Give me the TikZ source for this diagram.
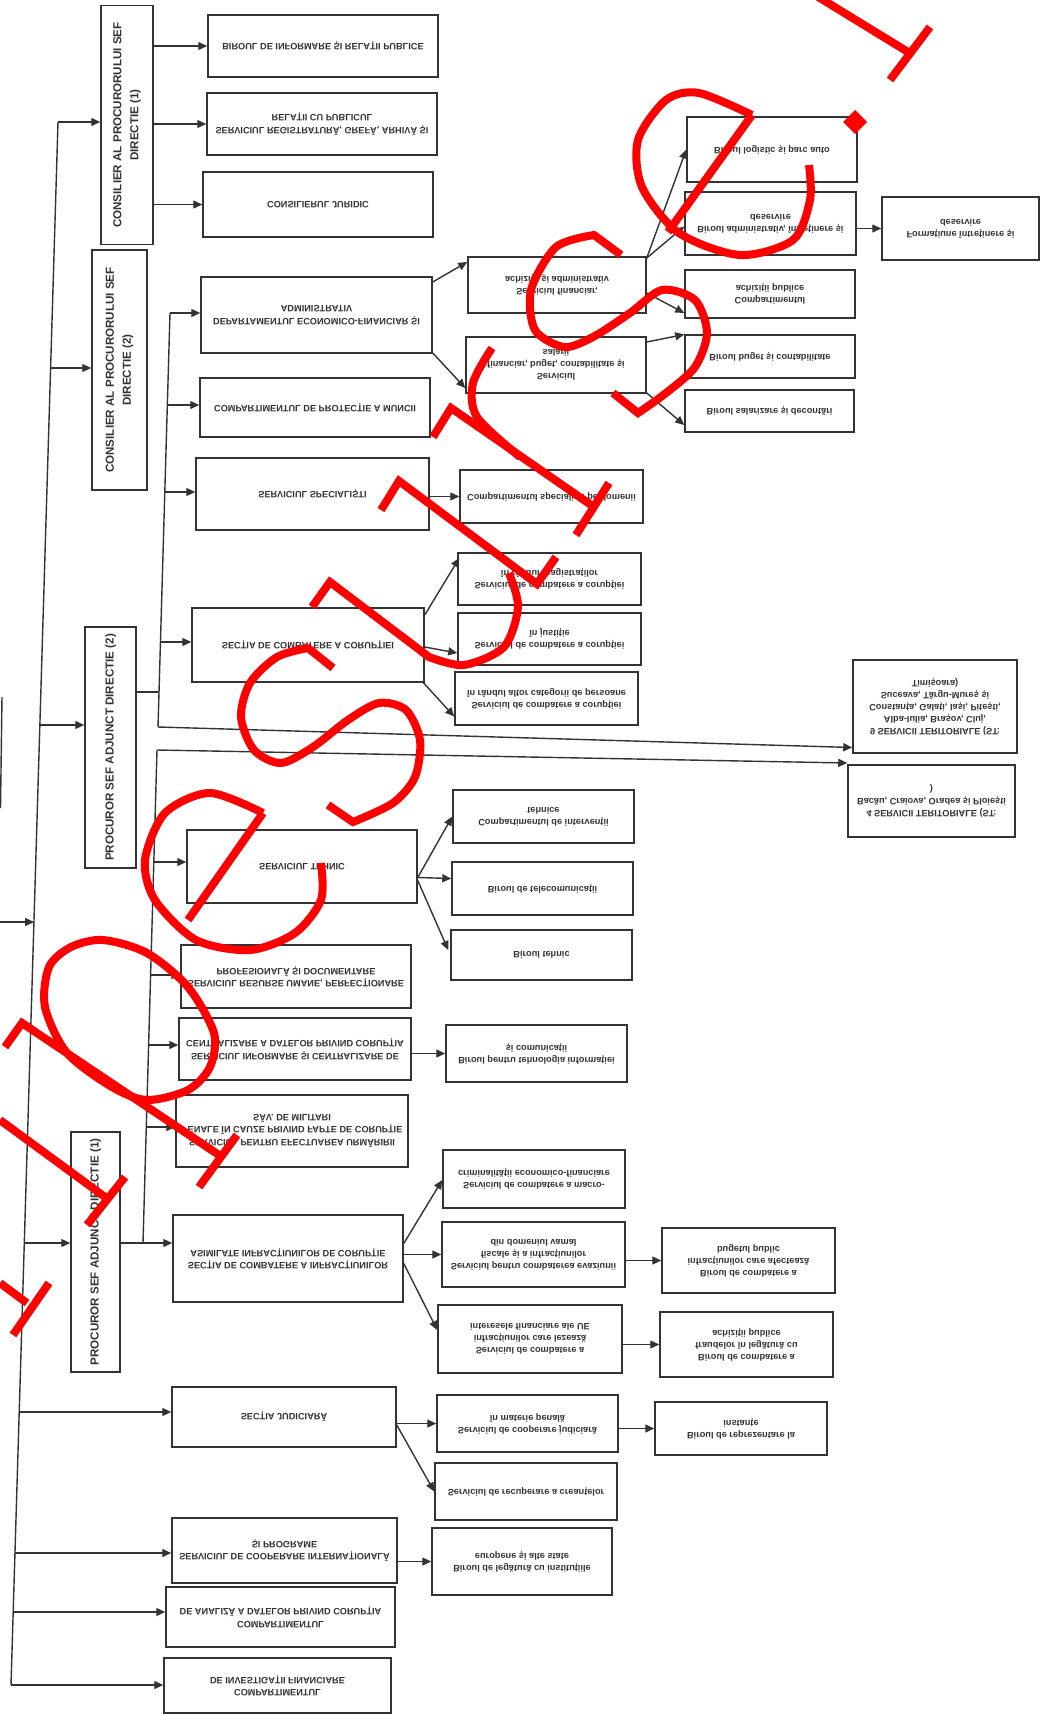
\documentclass[tikz,border=0pt]{standalone}
\usepackage{fontspec}
\setmainfont{Liberation Sans}
\usetikzlibrary{arrows.meta,calc}
\definecolor{ink}{HTML}{333333}
\tikzset{
 ln/.style={draw=ink, line width=1.4pt},
 ar/.style={ln, -{Triangle[length=9pt,width=8pt]}},
 hb/.style={draw=ink, line width=1.5pt, rectangle, align=center, inner sep=1pt, transform shape, font=\bfseries\fontsize{9.2}{12.5}\selectfont, text=ink},
 hs/.style={hb, font=\bfseries\fontsize{9.2}{12}\selectfont},
 vb/.style={draw=ink, line width=1.5pt, rectangle, align=center, inner sep=1pt, rotate=90, font=\bfseries\fontsize{11.6}{17}\selectfont, text=ink},
 wm/.style={draw=red, line width=8pt, line join=miter},
}
\begin{document}
\begin{tikzpicture}[x=1pt,y=1pt,yscale=-1]
\useasboundingbox (0,0) rectangle (1043,1715);
% vertical boxes
\node[vb, minimum width=239pt, minimum height=52pt] (C1) at (127,125) {CONSILIER AL PROCURORULUI SEF\\DIRECTIE (1)};
\node[vb, minimum width=240pt, minimum height=55pt] (C2) at (119.5,370) {CONSILIER AL PROCURORULUI SEF\\DIRECTIE (2)};
\node[vb, minimum width=241pt, minimum height=51pt] (PS2) at (110.5,747.5) {PROCUROR SEF ADJUNCT DIRECTIE (2)};
\node[vb, minimum width=240pt, minimum height=49pt] (PS1) at (95.5,1252) {PROCUROR SEF ADJUNCT DIRECTIE (1)};
% column 2
\node[hb, minimum width=230pt, minimum height=62pt] (B1) at (323,46) {BIROUL DE INFORMARE ȘI RELAȚII PUBLICE};
\node[hb, minimum width=230pt, minimum height=62pt] (B2) at (322,124) {SERVICIUL REGISTRATURĂ, GREFĂ, ARHIVĂ ȘI\\RELAȚII CU PUBLICUL};
\node[hb, minimum width=230pt, minimum height=65pt] (B3) at (318,204.5) {CONSILIERUL JURIDIC};
\node[hb, minimum width=231pt, minimum height=76pt] (D1) at (316.5,315) {DEPARTAMENTUL ECONOMICO-FINANCIAR ȘI\\ADMINISTRATIV};
\node[hb, minimum width=230pt, minimum height=59pt] (D2) at (315,407.5) {COMPARTIMENTUL DE PROTECȚIE A MUNCII};
\node[hb, minimum width=233pt, minimum height=72pt] (D3) at (312.5,494) {SERVICIUL SPECIALIȘTI};
\node[hb, minimum width=232pt, minimum height=74pt] (SC) at (308,645) {SECȚIA DE COMBATERE A CORUPȚIEI};
\node[hb, minimum width=230pt, minimum height=73pt] (ST) at (302,866.5) {SERVICIUL TEHNIC};
\node[hb, minimum width=230pt, minimum height=63pt] (K1) at (296,976.5) {SERVICIUL RESURSE UMANE, PERFECȚIONARE\\PROFESIONALĂ ȘI DOCUMENTARE};
\node[hb, minimum width=232pt, minimum height=62pt] (K2) at (295,1049) {SERVICIUL INFORMARE ȘI CENTRALIZARE DE\\CENTRALIZARE A DATELOR PRIVIND CORUPȚIA};
\node[hb, minimum width=232pt, minimum height=72pt] (K3) at (292,1131) {SERVICIUL PENTRU EFECTUAREA URMĂRIRII\\PENALE ÎN CAUZE PRIVIND FAPTE DE CORUPȚIE\\SĂV. DE MILITARI};
\node[hb, minimum width=230pt, minimum height=87pt] (SCI) at (288,1258.5) {SECȚIA DE COMBATERE A INFRACȚIUNILOR\\ASIMILATE INFRACȚIUNILOR DE CORUPȚIE};
\node[hb, minimum width=224pt, minimum height=60pt] (SJ) at (284,1417) {SECȚIA JUDICIARĂ};
\node[hb, minimum width=225pt, minimum height=65pt] (SCP) at (284.5,1550.5) {SERVICIUL DE COOPERARE INTERNAȚIONALĂ\\ȘI PROGRAME};
\node[hb, minimum width=229pt, minimum height=60pt] (CA) at (280.5,1617) {COMPARTIMENTUL\\DE ANALIZĂ A DATELOR PRIVIND CORUPȚIA};
\node[hb, minimum width=227pt, minimum height=55pt] (CI) at (277.5,1685.5) {COMPARTIMENTUL\\DE INVESTIGAȚII FINANCIARE};
% column 3
\node[hs, minimum width=178pt, minimum height=56pt] (E1) at (557,285) {Serviciul financiar,\\achiziții și administrativ};
\node[hs, minimum width=180pt, minimum height=56pt] (E2) at (556,365) {Serviciul\\financiar, buget, contabilitate și\\salarii};
\node[hs, minimum width=183pt, minimum height=53pt] (H1) at (551.5,496.5) {Compartimentul specialiști pe domenii};
\node[hs, minimum width=183pt, minimum height=52pt] (I1) at (549.5,579) {Serviciul de combatere a corupției\\în rândul magistraților};
\node[hs, minimum width=183pt, minimum height=52pt] (I2) at (549.5,639) {Serviciul de combatere a corupției\\în justiție};
\node[hs, minimum width=183pt, minimum height=53pt] (I3) at (546.5,698.5) {Serviciul de combatere a corupției\\în rândul altor categorii de persoane};
\node[hs, minimum width=181pt, minimum height=53pt] (J1) at (543.5,816.5) {Compartimentul de intervenții\\tehnice};
\node[hs, minimum width=181pt, minimum height=53pt] (J2) at (542.5,888.5) {Biroul de telecomunicații};
\node[hs, minimum width=181pt, minimum height=50pt] (J3) at (541.5,955) {Biroul tehnic};
\node[hs, minimum width=181pt, minimum height=57pt] (K2c) at (536.5,1053.5) {Biroul pentru tehnologia informației\\și comunicații};
\node[hs, minimum width=182pt, minimum height=58pt] (L1) at (534,1179) {Serviciul de combatere a macro-\\criminalității economico-financiare};
\node[hs, minimum width=183pt, minimum height=65pt] (L2) at (533.5,1254.5) {Serviciul pentru combaterea evaziunii\\fiscale și a infracțiunilor\\din domeniul vamal};
\node[hs, minimum width=184pt, minimum height=68pt] (L3) at (530,1339) {Serviciul de combatere a\\infracțiunilor care lezează\\interesele financiare ale UE};
\node[hs, minimum width=181pt, minimum height=57pt] (N1) at (527.5,1423.5) {Serviciul de cooperare judiciară\\în materie penală};
\node[hs, minimum width=182pt, minimum height=57pt] (N2) at (526,1491.5) {Serviciul de recuperare a creanțelor};
\node[hs, minimum width=180pt, minimum height=67pt] (P1) at (522,1561.5) {Biroul de legătură cu instituțiile\\europene și alte state};
% column 4
\node[hs, minimum width=170pt, minimum height=65pt] (F1) at (772,149.5) {Biroul logistic și parc auto};
\node[hs, minimum width=171pt, minimum height=63pt] (F2) at (770.5,223.5) {Biroul administrativ, întreținere și\\deservire};
\node[hs, minimum width=170pt, minimum height=48pt] (F3) at (770,294) {Compartimentul\\achiziții publice};
\node[hs, minimum width=170pt, minimum height=43pt] (F4) at (770,356.5) {Biroul buget și contabilitate};
\node[hs, minimum width=169pt, minimum height=42pt] (F5) at (769.5,411) {Biroul salarizare și decontări};
\node[hs, minimum width=173pt, minimum height=65pt] (M1) at (748.5,1260.5) {Biroul de combatere a\\infracțiunilor care afectează\\bugetul public};
\node[hs, minimum width=173pt, minimum height=65pt] (M2) at (746.5,1344.5) {Biroul de combatere a\\fraudelor în legătură cu\\achiziții publice};
\node[hs, minimum width=172pt, minimum height=53pt] (O1) at (741,1428.5) {Biroul de reprezentare la\\instanțe};
% column 5
\node[hs, minimum width=157pt, minimum height=63pt] (G1) at (960.5,228.5) {Formațiune întreținere și\\deservire};
\node[hs, minimum width=164pt, minimum height=93pt] (ST9) at (935,706.5) {9 SERVICII TERITORIALE (ST:\\Alba-Iulia, Brașov, Cluj,\\Constanța, Galați, Iași, Pitești,\\Suceava, Târgu-Mureș și\\Timișoara)};
\node[hs, minimum width=167pt, minimum height=72pt] (ST4) at (931.5,801) {4 SERVICII TERITORIALE (ST:\\Bacău, Craiova, Oradea și Ploiești\\)};
% trunk
\coordinate (tC1) at (58,122);
\coordinate (tC2) at (50.6,368);
\coordinate (tPS2) at (39.9,725);
\coordinate (tDir) at (34,922);
\coordinate (tPS1) at (24.3,1243);
\coordinate (tSJ) at (19.2,1412);
\coordinate (tSCP) at (15,1553);
\coordinate (tCA) at (13.2,1612);
\coordinate (tCI) at (11,1685);
\coordinate (dir) at (0,922);
\coordinate (cutA) at (2,697);
\coordinate (cutB) at (0.5,808);
\draw[ln] (tC1) -- (tCI);
\draw[ln] (cutA) -- (cutB);
\draw[ar] (dir) -- (tDir);
\foreach \t/\b in {tC1/C1,tC2/C2,tPS2/PS2,tPS1/PS1}{\draw[ar] (\t) -- (\t -| \b.north);}
\foreach \t/\b in {tSJ/SJ,tSCP/SCP,tCA/CA,tCI/CI}{\draw[ar] (\t) -- (\t -| \b.west);}
% consilier 1 children
\foreach \b in {B1,B2,B3}{\draw[ar] (C1.south |- \b) -- (\b.west);}
% PS2 bracket
\coordinate (b2D1) at (170,313);
\coordinate (b2D2) at (167.4,405);
\coordinate (b2D3) at (164.8,492);
\coordinate (b2SC) at (160.4,642);
\coordinate (b2P) at (159,692);
\coordinate (b2bot) at (158,727);
\draw[ln] (b2D1) -- (b2bot);
\draw[ln] (PS2.south |- b2P) -- (b2P);
\foreach \c/\b in {b2D1/D1,b2D2/D2,b2D3/D3,b2SC/SC}{\draw[ar] (\c) -- (\c -| \b.west);}
\coordinate (st9in) at ($(ST9.west)+(0,41)$);
\draw[ar] (b2bot) -- (st9in);
% PS1 bracket
\coordinate (b1top) at (157,750);
\coordinate (b1ST) at (153.8,862);
\coordinate (b1K1) at (150.8,975);
\coordinate (b1K2) at (148.8,1045);
\coordinate (b1K3) at (146.4,1127);
\coordinate (b1bot) at (143,1243);
\draw[ln] (b1top) -- (b1bot);
\draw[ln] (PS1.south |- b1bot) -- (b1bot);
\foreach \c/\b in {b1ST/ST,b1K1/K1,b1K2/K2,b1K3/K3,b1bot/SCI}{\draw[ar] (\c) -- (\c -| \b.west);}
\coordinate (st4in) at ($(ST4.west)+(0,-38)$);
\draw[ar] (b1top) -- (st4in);
% economic dept
\draw[ar] ($(D1.east)+(0,-33)$) -- ($(E1.west)+(0,-23)$);
\draw[ar] ($(D1.east)+(0,38)$) -- ($(E2.west)+(0,23)$);
\draw[ar] ($(E1.east)+(0,-27)$) -- (F1.west);
\draw[ar] ($(E1.east)+(0,-27)$) -- ($(F2.west)+(0,3)$);
\draw[ar] ($(E1.east)+(0,8)$) -- ($(F3.west)+(0,19)$);
\draw[ar] ($(E2.east)+(0,-23)$) -- ($(F4.west)+(0,-22)$);
\draw[ar] ($(E2.east)+(0,28)$) -- ($(F5.west)+(0,14)$);
\draw[ar] (F2.east |- G1) -- (G1.west);
% specialisti
\draw[ar] (D3.east |- H1) -- (H1.west);
% sectia combatere coruptie
\draw[ar] ($(SC.east)+(0,-30)$) -- ($(I1.west)+(2,-21)$);
\draw[ar] ($(SC.east)+(0,2)$) -- ($(I2.west)+(0,14)$);
\draw[ar] ($(SC.east)+(-2,37)$) -- ($(I3.west)+(0,18)$);
% tehnic
\draw[ar] ($(ST.east)+(0,11)$) -- (J1.west);
\draw[ar] ($(ST.east)+(0,11)$) -- ($(J2.west)+(0,-10)$);
\draw[ar] ($(ST.east)+(0,14)$) -- ($(J3.west)+(-2,-5)$);
\draw[ar] (K2.east |- K2c) -- (K2c.west);
% SCI
\draw[ar] ($(SCI.east)+(0,-15)$) -- ($(L1.west)+(0,1)$);
\draw[ar] (SCI.east |- L2) -- (L2.west);
\draw[ar] ($(SCI.east)+(0,5)$) -- ($(L3.west)+(0,-9)$);
\draw[ar] (L2.east |- M1) -- (M1.west);
\draw[ar] (L3.east |- M2) -- (M2.west);
% judiciara
\draw[ar] (SJ.east |- N1) -- (N1.west);
\draw[ar] ($(SJ.east)+(0,8)$) -- (N2.west);
\draw[ar] (N1.east |- O1) -- (O1.west);
\draw[ar] (SCP.east |- P1) -- (P1.west);
% red watermark strokes
\draw[wm] (815,-5) -- (908,52);
\draw[wm] (890,80) -- (930,27);
\fill[red] (855,110) -- (867,122) -- (855,134) -- (843,122) -- cycle;
\draw[wm] (668,232) -- (752,115);
\draw[wm] plot[smooth] coordinates {(752,115) (699,93) (666,100) (638,140) (642,187) (679,233) (740,255) (793,240) (810,200) (809,165)};
\draw[wm] (621,255) -- plot[smooth] coordinates {(594,235) (556,247) (531,290) (535,330) (564,347) (593,337) (630,313) (662,290) (695,300) (707,333) (695,367) (666,393) (638,413)} -- (613,393);
\draw[wm] (433,437) -- (451,408) -- (594,507);
\draw[wm] (576,535) -- (609,483);
\draw[wm] plot[smooth] coordinates {(492,348) (473,383) (477,417) (520,457)};
\draw[wm] (381,510) -- (399,481) -- (537,584) -- (556,557);
\draw[wm] (312,607) -- (330,582) -- plot[smooth] coordinates {(429,657) (464,665) (504,647) (518,607) (509,573)};
\draw[wm] (333,668) -- plot[smooth] coordinates {(308,648) (277,657) (250,683) (241,717) (254,750) (281,763) (313,747) (348,720) (379,703) (406,710) (420,740) (415,777) (393,803) (353,822)} -- (328,805);
\draw[wm] (263,813) -- (188,920);
\draw[wm] plot[smooth] coordinates {(263,813) (210,793) (165,813) (145,860) (155,900) (196,940) (250,950) (295,933) (321,900) (321,863)};
\draw[wm] plot[smooth cycle] coordinates {(103,940) (147,953) (188,987) (214,1033) (210,1067) (188,1090) (147,1100) (112,1087) (67,1053) (45,1007) (49,967) (71,947)};
\draw[wm] (5,1047) -- (22,1023) -- (219,1155);
\draw[wm] (199,1187) -- (237,1135);
\draw[wm] (0,1120) -- (105,1197);
\draw[wm] (87,1225) -- (125,1177);
\draw[wm] (0,1283) -- (27,1303);
\draw[wm] (49,1283) -- (13,1335);
\end{tikzpicture}
\end{document}
